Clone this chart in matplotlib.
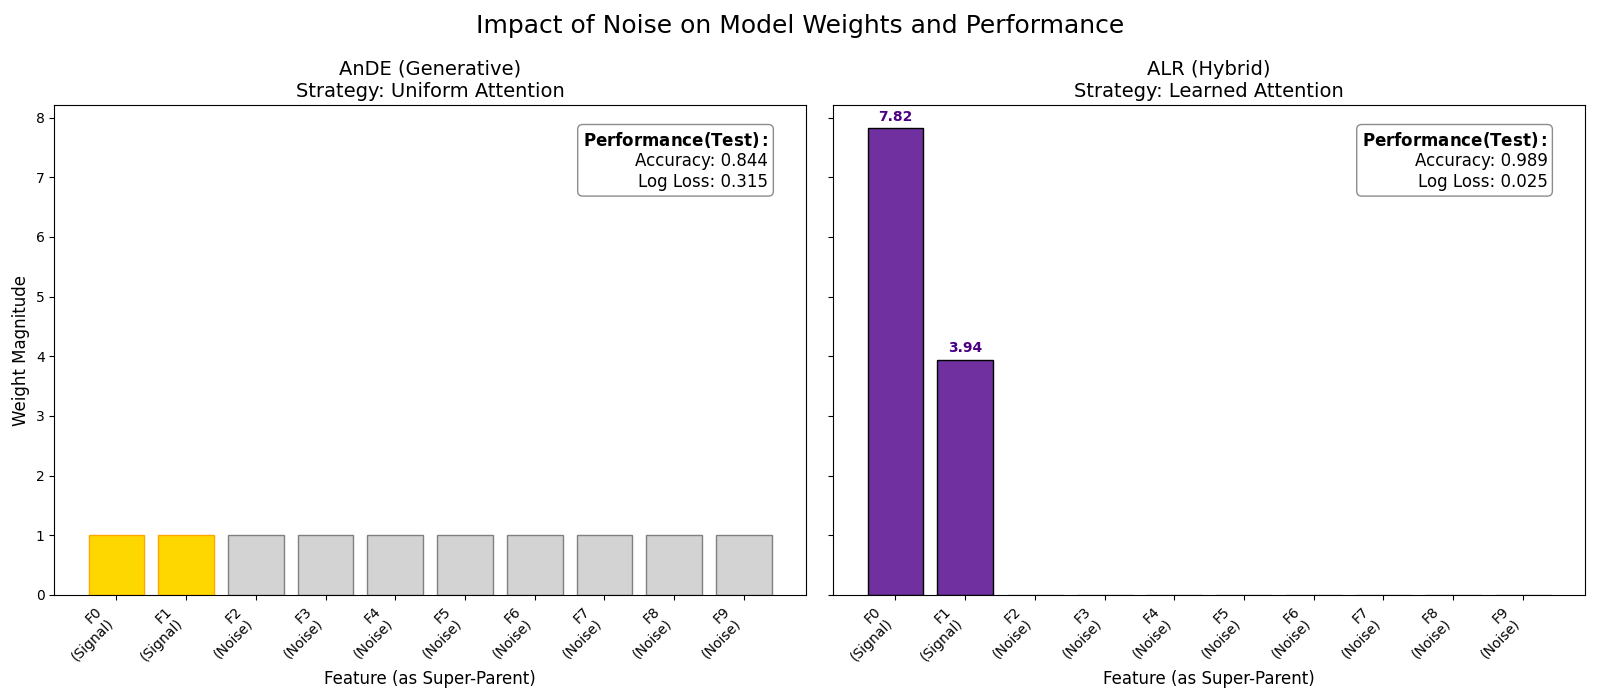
import numpy as np
import matplotlib
matplotlib.use("Agg")
import matplotlib.pyplot as plt

features = ["F0\n(Signal)", "F1\n(Signal)"] + [f"F{i}\n(Noise)" for i in range(2, 10)]
ande_weights = [1.0] * 10
alr_weights = [7.82, 3.94, 0.003, 0.003, 0.003, 0.003, 0.003, 0.003, 0.003, 0.003]
ande_perf = {"acc": 0.844, "loss": 0.315}
alr_perf = {"acc": 0.989, "loss": 0.025}

fig, axes = plt.subplots(1, 2, figsize=(16, 7), dpi=100, sharey=True)
x = np.arange(len(features))

# left: uniform
ax = axes[0]
colors = ["gold", "gold"] + ["lightgray"] * 8
edges = ["orange", "orange"] + ["gray"] * 8
ax.bar(x, ande_weights, color=colors, edgecolor=edges)
ax.set_title("AnDE (Generative)\nStrategy: Uniform Attention", fontsize=14)
ax.set_ylabel("Weight Magnitude", fontsize=12)

# right: learned
ax = axes[1]
colors = ["#7030A0", "#7030A0"] + ["lightgray"] * 8
edges = ["black", "black"] + ["gray"] * 8
ax.bar(x, alr_weights, color=colors, edgecolor=edges)
for i in range(2):
    ax.text(x[i], alr_weights[i] + 0.08, f"{alr_weights[i]:.2f}", ha="center", va="bottom",
            fontsize=10, fontweight="bold", color="indigo")
ax.set_title("ALR (Hybrid)\nStrategy: Learned Attention", fontsize=14)

for ax, perf in zip(axes, [ande_perf, alr_perf]):
    ax.set_xticks(x)
    ax.set_xticklabels(features, rotation=45, ha="right")
    ax.set_xlabel("Feature (as Super-Parent)", fontsize=12)
    txt = r"$\bf{Performance(Test):}$" + f"\nAccuracy: {perf['acc']:.3f}\nLog Loss: {perf['loss']:.3f}"
    ax.text(0.95, 0.95, txt, transform=ax.transAxes, ha="right", va="top", fontsize=12,
            bbox=dict(boxstyle="round", facecolor="white", edgecolor="gray", alpha=0.9))

axes[0].set_ylim(0, 8.21)
fig.suptitle("Impact of Noise on Model Weights and Performance", fontsize=18)
fig.subplots_adjust(left=0.034, right=0.9906, top=0.85, bottom=0.15, wspace=0.0366)
plt.savefig("out.png")
